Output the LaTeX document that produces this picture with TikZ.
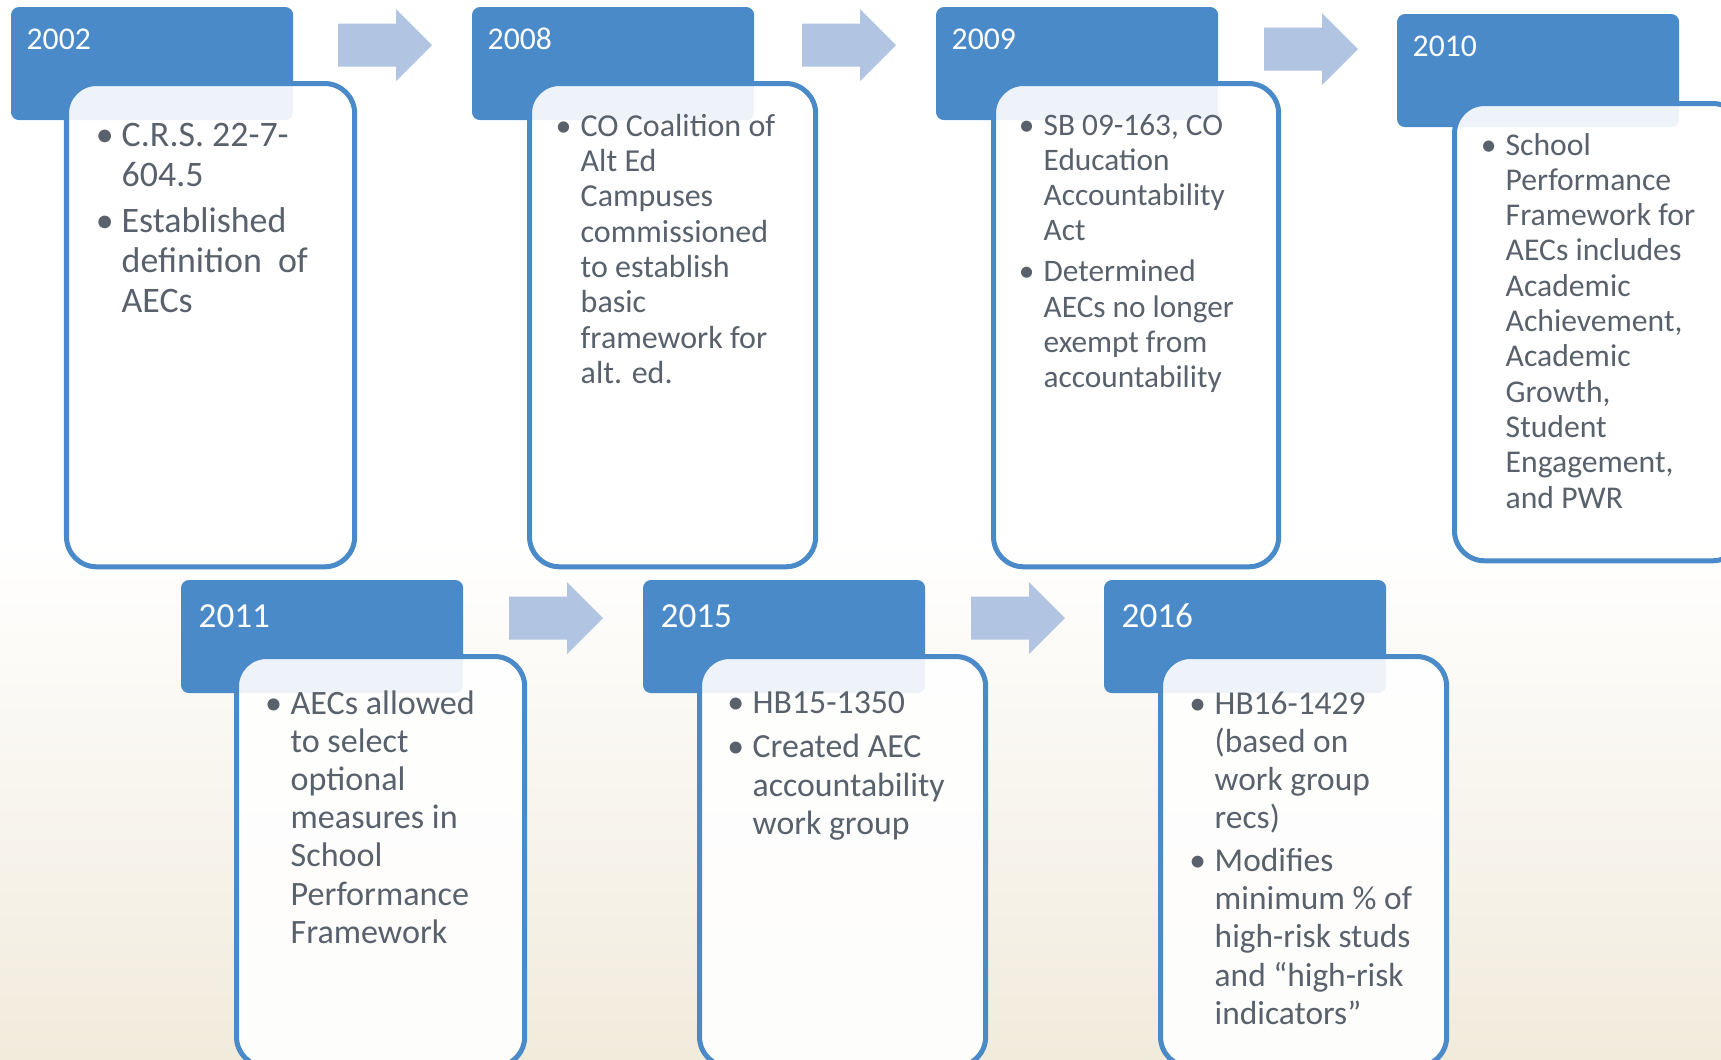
\documentclass[tikz,border=0pt]{standalone}
\usepackage{fontspec}
\setmainfont{Carlito}
\usepackage{xcolor}

\definecolor{headblue}{RGB}{74,138,200}
\definecolor{arrowblue}{RGB}{177,197,227}
\definecolor{txtgray}{RGB}{88,97,108}
\definecolor{sand}{RGB}{241,235,220}

\newcommand{\bl}{\llap{\makebox[0pt]{\textbullet}\hspace{0.17cm}}}
\newcommand{\blockarrow}[2]{\fill[arrowblue] (#1,#2-21.5) -- ++(58,0) -- ++(0,-14.5) -- ++(36,36) -- ++(-36,36) -- ++(0,-14.5) -- ++(-58,0) -- cycle;}

\begin{document}
\begin{tikzpicture}[x=0.01cm,y=-0.01cm,
	yearbox/.style={anchor=north west, fill=headblue, rounded corners=0.08cm,
		minimum width=2.82cm, minimum height=1.13cm, inner sep=0, outer sep=0},
	eventbox/.style={anchor=north west, draw=headblue, line width=0.05cm, fill=white,
		fill opacity=0.9, rounded corners=0.3cm, inner sep=0, outer sep=0},
	yeartext/.style={anchor=base west, inner sep=0, text=white},
	eventtext/.style={anchor=base west, inner sep=0, text=txtgray}]
		%\draw[help lines] (0,0) grid[step=100] (1721,1059);
		\useasboundingbox (0,0) rectangle (1721,1059);
		\clip (0,0) rectangle (1721,1059);
		\fill[white] (0,0) rectangle (1721,540);
		\shade[top color=white, bottom color=sand] (0,540) rectangle (1721,1059);

		% top row
		\node[yearbox] (h2002) at (11,7) {};
		\node[yearbox] (h2008) at (472,7) {};
		\node[yearbox] (h2009) at (936,7) {};
		\node[yearbox] (h2010) at (1397,14) {};

		\node[eventbox, minimum width=2.88cm, minimum height=4.83cm] (b2002) at (66.5,83.5) {};
		\node[eventbox, minimum width=2.86cm, minimum height=4.83cm] (b2008) at (529.5,83.5) {};
		\node[eventbox, minimum width=2.85cm, minimum height=4.83cm] (b2009) at (993.5,83.5) {};
		\node[eventbox, minimum width=2.88cm, minimum height=4.57cm] (b2010) at (1454.5,103.5) {};

		\node[yeartext, font=\fontsize{9}{10}\selectfont] (y2002) at (26,49) {2002};
		\node[yeartext, font=\fontsize{9}{10}\selectfont] (y2008) at (487,49) {2008};
		\node[yeartext, font=\fontsize{9}{10}\selectfont] (y2009) at (951,49) {2009};
		\node[yeartext, font=\fontsize{9}{10}\selectfont] (y2010) at (1412,56) {2010};

		\blockarrow{338}{45}
		\blockarrow{802}{45}
		\blockarrow{1264}{49}

		\node[eventtext, font=\fontsize{10.2}{11.4}\selectfont] (t2002) at (121,146) {\begin{tabular}[t]{@{}l@{}}
			\bl C.R.S. 22-7-\\ 604.5\\[1.7pt]
			\bl Established\\ definition\ \ of\\ AECs
		\end{tabular}};
		\node[eventtext, font=\fontsize{9.1}{10.06}\selectfont] (t2008) at (580,136) {\begin{tabular}[t]{@{}l@{}}
			\bl CO Coalition of\\ Alt Ed\\ Campuses\\ commissioned\\ to establish\\ basic\\ framework for\\ alt. ed.
		\end{tabular}};
		\node[eventtext, font=\fontsize{8.9}{10.04}\selectfont] (t2009) at (1043,135) {\begin{tabular}[t]{@{}l@{}}
			\bl SB 09-163, CO\\ Education\\ Accountability\\ Act\\[1.6pt]
			\bl Determined\\ AECs no longer\\ exempt from\\ accountability
		\end{tabular}};
		\node[eventtext, font=\fontsize{9}{10.04}\selectfont] (t2010) at (1505,155) {\begin{tabular}[t]{@{}l@{}}
			\bl School\\ Performance\\ Framework for\\ AECs includes\\ Academic\\ Achievement,\\
			Academic\\ Growth,\\ Student\\ Engagement,\\ and PWR
		\end{tabular}};

		% bottom row
		\node[yearbox] (h2011) at (181,580) {};
		\node[yearbox] (h2015) at (643,580) {};
		\node[yearbox] (h2016) at (1104,580) {};

		\node[eventbox, minimum width=2.88cm, minimum height=4.10cm] (b2011) at (236.5,656.5) {};
		\node[eventbox, minimum width=2.86cm, minimum height=4.10cm] (b2015) at (699.5,656.5) {};
		\node[eventbox, minimum width=2.86cm, minimum height=4.10cm] (b2016) at (1160.5,656.5) {};

		\node[yeartext, font=\fontsize{10}{11}\selectfont] (y2011) at (198,627) {2011};
		\node[yeartext, font=\fontsize{10}{11}\selectfont] (y2015) at (660,627) {2015};
		\node[yeartext, font=\fontsize{10}{11}\selectfont] (y2016) at (1121,627) {2016};

		\blockarrow{509}{618}
		\blockarrow{971}{618}

		\node[eventtext, font=\fontsize{9.7}{10.87}\selectfont] (t2011) at (290,714) {\begin{tabular}[t]{@{}l@{}}
			\bl AECs allowed\\ to select\\ optional\\ measures in\\ School\\ Performance\\ Framework
		\end{tabular}};
		\node[eventtext, font=\fontsize{9.6}{11.0}\selectfont] (t2015) at (752,713) {\begin{tabular}[t]{@{}l@{}}
			\bl HB15-1350\\[1.6pt]
			\bl Created AEC\\ accountability\\ work group
		\end{tabular}};
		\node[eventtext, font=\fontsize{9.5}{10.87}\selectfont] (t2016) at (1214,714) {\begin{tabular}[t]{@{}l@{}}
			\bl HB16-1429\\ (based on\\ work group\\ recs)\\[1.3pt]
			\bl Modifies\\ minimum \% of\\ high-risk studs\\ and “high-risk\\ indicators”
		\end{tabular}};
\end{tikzpicture}
\end{document}
